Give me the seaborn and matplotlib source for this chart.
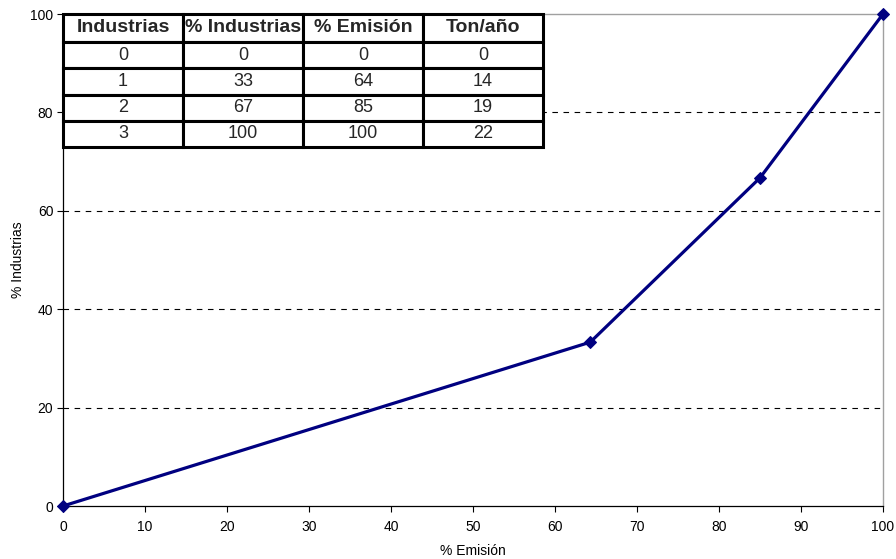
import matplotlib
matplotlib.use("Agg")
import matplotlib.pyplot as plt
import seaborn as sns
import pandas as pd

# Cumulative emission curve by industry
industrias = [0, 1, 2, 3]
pct_industrias = [0.0, 33.3, 66.7, 100.0]
pct_emision = [0.0, 64.3, 85.0, 100.0]
ton_anio = [0, 14, 19, 22]

table_header = ["Industrias", "% Industrias", "% Emisión", "Ton/año"]
x_ticks = [0, 10, 20, 30, 40, 50, 60, 70, 80, 90, 100]
y_ticks = [0, 20, 40, 60, 80, 100]

sns.set_theme(style="white")
plt.rcParams["font.family"] = ["Liberation Sans", "DejaVu Sans"]

df = pd.DataFrame({"emision": pct_emision, "industrias": pct_industrias})

fig = plt.figure(figsize=(8.96, 5.59), dpi=100)
ax = fig.add_axes([63 / 896, 53 / 559, 820 / 896, 492 / 559])

# dashed reference lines (top one is covered by the frame)
for yv in y_ticks[1:-1]:
    ax.axhline(yv, color="black", linestyle=(0, (5, 5)), linewidth=0.8, zorder=1)

sns.lineplot(data=df, x="emision", y="industrias", ax=ax, color="#000080",
             linewidth=2.3, marker="D", markersize=6, markeredgecolor="#000080",
             zorder=3, clip_on=False)

ax.set_xlim(0, 100)
ax.set_ylim(0, 100)
ax.set_xticks(x_ticks)
ax.set_yticks(y_ticks)
ax.tick_params(axis="both", which="both", direction="out", length=4, width=0.8,
               color="black", labelsize=10, labelcolor="black", pad=3,
               bottom=True, left=True)
ax.tick_params(axis="x", pad=6)
ax.set_xlabel("% Emisión", fontsize=10, color="black", labelpad=7)
ax.set_ylabel("% Industrias", fontsize=10, color="black", labelpad=4)

for side in ["left", "bottom"]:
    ax.spines[side].set_color("black")
    ax.spines[side].set_linewidth(0.9)
for side in ["top", "right"]:
    ax.spines[side].set_color("#a0a0a0")
    ax.spines[side].set_linewidth(1.0)

# data table in the upper left corner
rows = [[str(i), f"{p:.0f}", f"{e:.0f}", str(t)]
        for i, p, e, t in zip(industrias, pct_industrias, pct_emision, ton_anio)]
tbl = ax.table(cellText=rows, colLabels=table_header, cellLoc="center",
               bbox=[0.0, (506 - 147) / 492, 480 / 820, 133 / 492], zorder=5)
tbl.auto_set_font_size(False)
header_h = 28 / 133
body_h = (1 - header_h) / 4
for (r, c), cell in tbl.get_celld().items():
    cell.set_linewidth(2.2)
    cell.set_edgecolor("black")
    cell.set_facecolor("white")
    cell.set_height(header_h if r == 0 else body_h)
    txt = cell.get_text()
    if r == 0:
        txt.set_fontsize(14)
        txt.set_fontweight("bold")
    else:
        txt.set_fontsize(13)

fig.savefig("out.png", dpi=100, facecolor="white")
